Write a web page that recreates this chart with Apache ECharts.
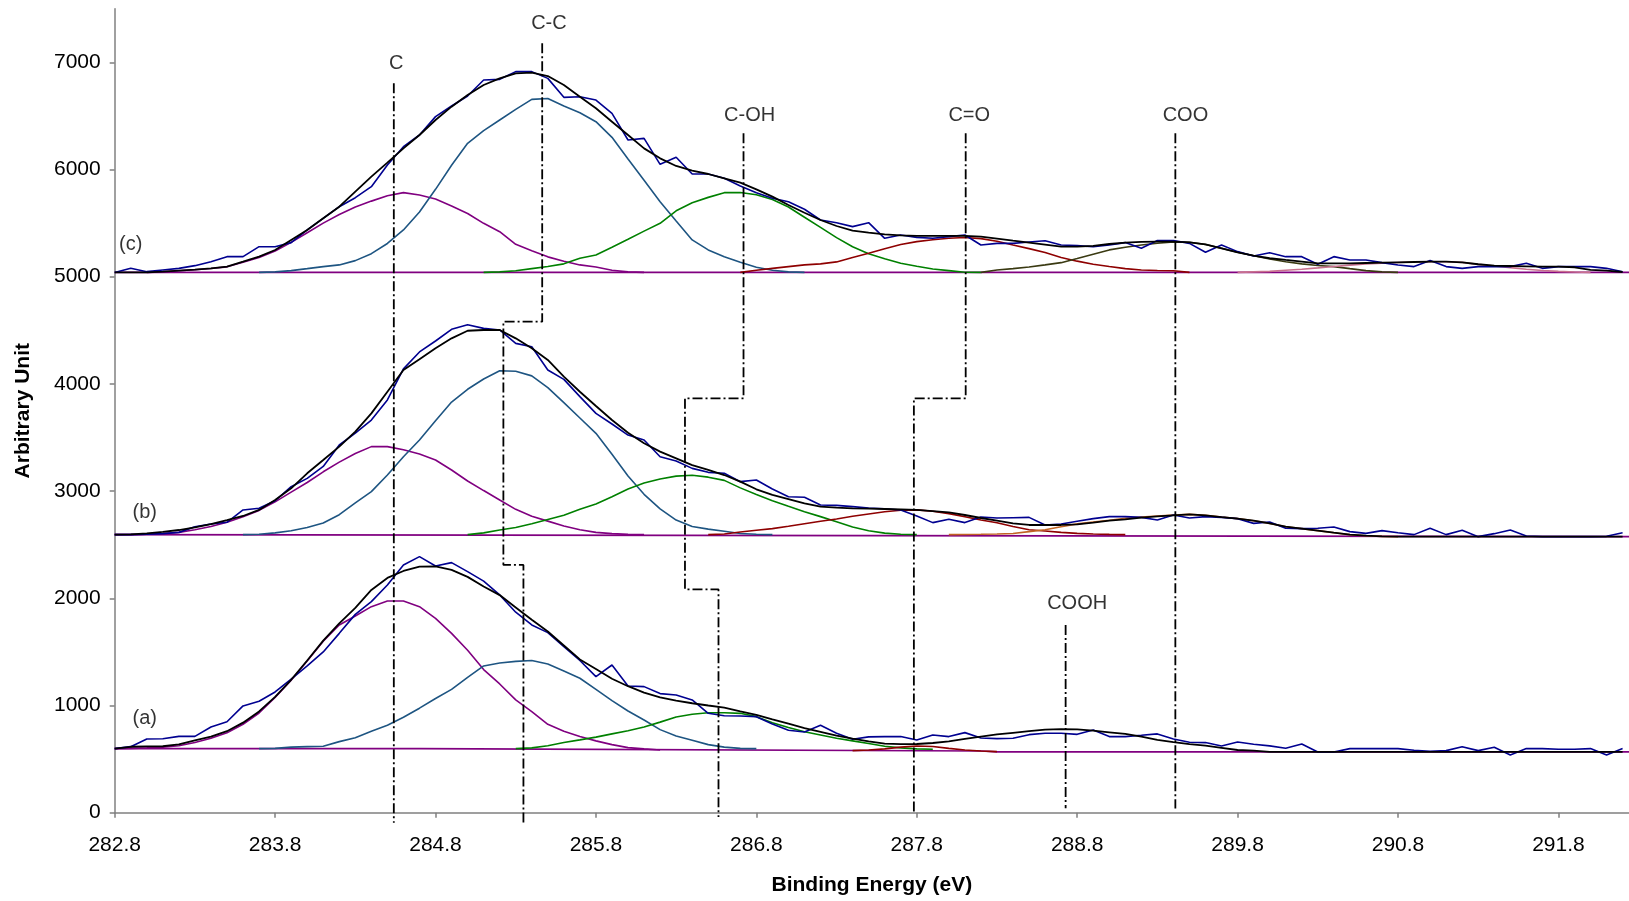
<!DOCTYPE html>
<html>
<head>
<meta charset="utf-8">
<script src="https://cdn.jsdelivr.net/npm/echarts@6/dist/echarts.min.js"></script>
<style>
  html, body { margin: 0; padding: 0; background: #fff; }
  #chart { width: 1629px; height: 901px; }
</style>
</head>
<body>
<div id="chart"></div>
<script>
// sampled curves start at 282.8 eV, one value every 0.1 eV
const E0 = 282.8
const dE = 0.1

const xTicks = [282.8, 283.8, 284.8, 285.8, 286.8, 287.8, 288.8, 289.8, 290.8, 291.8]
const yTicks = [0, 1000, 2000, 3000, 4000, 5000, 6000, 7000]

// ---- spectrum (c)
const rawC = [
  5040, 5078, 5047, 5063, 5078, 5103, 5140, 5187, 5187, 5280,
  5280, 5318, 5436, 5545, 5653, 5737, 5840, 6042, 6213, 6322,
  6493, 6592, 6686, 6835, 6841, 6913, 6913, 6850, 6673, 6679,
  6648, 6524, 6275, 6290, 6048, 6114, 5958, 5958, 5918, 5846,
  5784, 5731, 5700, 5629, 5529, 5504, 5467, 5504, 5358, 5389,
  5367, 5358, 5374, 5389, 5296, 5311, 5311, 5324, 5336, 5296,
  5290, 5280, 5296, 5318, 5265, 5337, 5337, 5311, 5228, 5296,
  5234, 5193, 5224, 5187, 5187, 5116, 5187, 5156, 5156, 5131,
  5109, 5094, 5150, 5094, 5078, 5094, 5094, 5094, 5125, 5078,
  5094, 5094, 5094, 5078, 5047
]
const fitC = [
  5040, 5040, 5040, 5048, 5057, 5066, 5078, 5094, 5140, 5187,
  5249, 5343, 5436, 5545, 5653, 5793, 5933, 6064, 6197, 6322,
  6462, 6586, 6695, 6788, 6850, 6897, 6903, 6872, 6788, 6679,
  6571, 6446, 6322, 6197, 6104, 6033, 5989, 5958, 5918, 5877,
  5815, 5747, 5669, 5597, 5529, 5473, 5430, 5411, 5395, 5386,
  5380, 5380, 5380, 5380, 5374, 5355, 5336, 5318, 5299, 5280,
  5280, 5287, 5305, 5318, 5324, 5327, 5327, 5321, 5302, 5265,
  5228, 5197, 5172, 5156, 5141, 5125, 5125, 5125, 5128, 5131,
  5134, 5137, 5140, 5140, 5134, 5116, 5103, 5100, 5097, 5094,
  5094, 5088, 5063, 5057, 5044
]
const c_C = [5040, 5045, 5055, 5065, 5077, 5092, 5135, 5180, 5240, 5320, 5410, 5500, 5580, 5650, 5705, 5755, 5784, 5762, 5725, 5660, 5590, 5498, 5420, 5302, 5243, 5185, 5145, 5110, 5090, 5060, 5045, 5040]
const c_CC = [5040, 5045, 5057, 5075, 5094, 5110, 5150, 5215, 5310, 5436, 5604, 5815, 6039, 6244, 6362, 6462, 6561, 6654, 6662, 6592, 6530, 6446, 6300, 6098, 5899, 5700, 5520, 5343, 5250, 5187, 5134, 5088, 5060, 5045, 5040]
const c_COH = [5040, 5045, 5055, 5075, 5095, 5120, 5172, 5203, 5275, 5349, 5425, 5498, 5615, 5690, 5740, 5784, 5786, 5765, 5720, 5650, 5555, 5460, 5365, 5280, 5215, 5168, 5125, 5098, 5072, 5057, 5042, 5040]
const c_CO = [5040, 5060, 5078, 5094, 5110, 5120, 5138, 5180, 5218, 5260, 5300, 5327, 5345, 5358, 5365, 5355, 5330, 5295, 5262, 5225, 5180, 5145, 5116, 5095, 5075, 5062, 5058, 5055, 5040]
const c_COO = [5040, 5062, 5075, 5090, 5110, 5131, 5170, 5210, 5250, 5275, 5295, 5312, 5325, 5321, 5300, 5265, 5228, 5195, 5165, 5140, 5120, 5105, 5094, 5075, 5057, 5045, 5040]
const c_X = [5040, 5045, 5050, 5060, 5070, 5082, 5095, 5108, 5120, 5127, 5132, 5137, 5140, 5140, 5134, 5115, 5100, 5085, 5070, 5058, 5050, 5044, 5040]
const startC = [283.0, 283.7, 285.1, 286.7, 288.2, 289.8]
const baseC = [[282.8, 5040], [292.24, 5040]]

// ---- spectrum (b)
const rawB = [
  2594, 2594, 2597, 2603, 2615, 2668, 2693, 2709, 2824, 2840,
  2910, 3041, 3119, 3230, 3430, 3540, 3663, 3850, 4140, 4298,
  4400, 4509, 4552, 4518, 4503, 4378, 4347, 4130, 4042, 3881,
  3725, 3626, 3523, 3477, 3321, 3281, 3212, 3175, 3166, 3088,
  3104, 3020, 2948, 2942, 2870, 2867, 2855, 2842, 2836, 2824,
  2768, 2706, 2737, 2706, 2759, 2749, 2752, 2755, 2684, 2693,
  2718, 2743, 2762, 2762, 2755, 2730, 2777, 2749, 2762, 2755,
  2743, 2699, 2712, 2653, 2650, 2653, 2665, 2622, 2606, 2631,
  2612, 2594, 2653, 2594, 2634, 2575, 2603, 2637, 2581, 2575,
  2575, 2575, 2575, 2578, 2612
]
const fitB = [
  2594, 2597, 2606, 2619, 2637, 2662, 2693, 2730, 2768, 2824,
  2917, 3026, 3166, 3290, 3415, 3554, 3725, 3927, 4130, 4229,
  4332, 4425, 4496, 4503, 4503, 4425, 4332, 4223, 4067, 3927,
  3794, 3663, 3545, 3446, 3368, 3306, 3243, 3197, 3150, 3088,
  3017, 2964, 2926, 2886, 2855, 2846, 2839, 2836, 2833, 2830,
  2824, 2814, 2802, 2777, 2749, 2724, 2699, 2684, 2684, 2684,
  2690, 2706, 2724, 2737, 2752, 2765, 2774, 2783, 2774, 2758,
  2743, 2724, 2699, 2668, 2650, 2631, 2612, 2594, 2584, 2578,
  2575, 2575, 2575, 2575, 2575, 2575, 2575, 2575, 2575, 2575,
  2575, 2575, 2575, 2575, 2575
]
const b_C = [2594, 2594, 2597, 2603, 2615, 2640, 2670, 2710, 2760, 2820, 2900, 2990, 3080, 3180, 3270, 3350, 3415, 3415, 3385, 3346, 3290, 3197, 3094, 3005, 2917, 2830, 2765, 2720, 2675, 2640, 2615, 2603, 2596, 2594]
const b_CC = [2594, 2597, 2610, 2630, 2660, 2703, 2780, 2890, 2995, 3150, 3320, 3477, 3657, 3831, 3950, 4046, 4123, 4118, 4075, 3965, 3825, 3682, 3539, 3343, 3140, 2970, 2835, 2730, 2670, 2645, 2625, 2605, 2597, 2594]
const b_COH = [2594, 2610, 2637, 2660, 2695, 2735, 2775, 2830, 2880, 2948, 3020, 3075, 3113, 3140, 3148, 3130, 3100, 3030, 2968, 2910, 2858, 2808, 2762, 2715, 2665, 2630, 2608, 2598, 2594]
const b_CO = [2594, 2600, 2618, 2635, 2650, 2672, 2695, 2718, 2740, 2765, 2787, 2808, 2822, 2825, 2812, 2790, 2760, 2730, 2705, 2670, 2640, 2628, 2615, 2606, 2600, 2596, 2594]
const b_COO = [2594, 2595, 2597, 2600, 2605, 2622, 2640, 2668, 2694, 2712, 2728, 2746, 2758, 2768, 2777, 2783, 2774, 2758, 2743, 2724, 2699, 2668, 2650, 2631, 2612, 2594, 2584, 2578, 2575]
const startB = [282.8, 283.6, 285.0, 286.5, 288.0]
const baseB = [[282.8, 2594], [292.24, 2575]]

// ---- spectrum (a)
const rawA = [
  598, 616, 688, 690, 712, 712, 800, 848, 996, 1040,
  1126, 1247, 1369, 1500, 1673, 1850, 1969, 2124, 2311, 2389,
  2301, 2333, 2249, 2160, 2031, 1870, 1751, 1680, 1550, 1420,
  1269, 1378, 1182, 1176, 1111, 1098, 1052, 927, 905, 902,
  896, 828, 769, 753, 815, 741, 685, 707, 710, 710,
  679, 725, 710, 747, 697, 691, 694, 728, 741, 741,
  731, 772, 710, 710, 722, 735, 688, 657, 654, 623,
  660, 638, 623, 601, 641, 567, 567, 598, 598, 598,
  598, 582, 573, 579, 616, 579, 610, 539, 598, 598,
  592, 592, 598, 539, 598
]
const fitA = [
  598, 615, 618, 620, 638, 675, 710, 760, 840, 945,
  1080, 1240, 1420, 1605, 1767, 1910, 2078, 2190, 2255, 2295,
  2298, 2265, 2200, 2110, 2030, 1915, 1800, 1690, 1560, 1430,
  1340, 1250, 1180, 1120, 1075, 1045, 1021, 1000, 980, 945,
  912, 870, 830, 790, 755, 720, 690, 665, 645, 640,
  641, 650, 665, 688, 710, 730, 745, 760, 775, 780,
  778, 765, 750, 735, 710, 680, 658, 640, 625, 605,
  585, 579, 567, 567, 567, 567, 567, 567, 567, 567,
  567, 567, 567, 567, 567, 567, 567, 567, 567, 567,
  567, 567, 567, 567, 567
]
const a_C = [598, 600, 605, 612, 625, 655, 695, 745, 825, 930, 1075, 1235, 1415, 1600, 1751, 1835, 1922, 1975, 1975, 1922, 1813, 1673, 1515, 1335, 1201, 1052, 943, 825, 760, 710, 670, 635, 607, 595, 585]
const a_CC = [598, 600, 612, 616, 620, 663, 700, 760, 815, 890, 975, 1065, 1150, 1263, 1369, 1397, 1412, 1420, 1387, 1322, 1254, 1150, 1046, 949, 865, 775, 715, 675, 635, 612, 600, 598]
const a_COH = [598, 605, 625, 655, 679, 705, 735, 765, 800, 845, 893, 918, 933, 932, 927, 896, 840, 794, 755, 725, 695, 670, 645, 620, 605, 595, 592]
const a_CO = [579, 585, 595, 612, 622, 618, 600, 585, 575, 570]
const startA = [282.8, 283.7, 285.3, 287.4]
const baseA = [[282.8, 598], [284.7, 598], [284.7, 580], [288.2, 575], [288.3, 567], [292.24, 567]]

// ---- dash-dot peak guides
const guideC = [[284.54, 6804], [284.54, -93]]
const guideCC = [[285.465, 7177], [285.465, 4580], [285.223, 4580], [285.223, 2311], [285.348, 2311], [285.348, -92]]
const guideCOH = [[286.72, 6337], [286.72, 3865], [286.355, 3865], [286.355, 2084], [286.564, 2084], [286.564, -40]]
const guideCO = [[288.105, 6337], [288.105, 3865], [287.782, 3865], [287.782, 0]]
const guideCOO = [[289.412, 6337], [289.412, 40]]
const guideCOOH = [[288.728, 1751], [288.728, 41]]

const labelText = ['C', 'C-C', 'C-OH', 'C=O', 'COO', 'COOH', '(c)', '(b)', '(a)']
const labelE = [284.555, 285.507, 286.758, 288.127, 289.475, 288.8, 282.9, 282.987, 282.987]
const labelI = [6990, 7363, 6508, 6508, 6508, 1955, 5296, 2805, 880]

const FONT = 'Liberation Sans, Arial, sans-serif'
const COL = {
  raw: '#000090', fit: '#000000', C: '#800080', CC: '#1E5582',
  COH: '#008000', CO: '#8E0000', COO: '#3A3A12', COOb: '#C26424', X: '#C8708E'
}

function pairs(start, vals) {
  return vals.map((v, i) => [+(start + i * dE).toFixed(2), v])
}

function curve(data, color, width, z) {
  return {
    type: 'line', data, symbol: 'none', silent: true, z: z || 2,
    lineStyle: { color, width: width || 1.6 }
  }
}

function guide(data) {
  return {
    type: 'line', data, symbol: 'none', silent: true, clip: false, z: 5,
    lineStyle: { color: '#000', width: 1.8, type: [10, 3, 2, 3] }
  }
}

let series = []
// (c)
series.push(curve(baseC, COL.C, 1.6, 1))
;[c_C, c_CC, c_COH, c_CO, c_COO, c_X].forEach((arr, i) => {
  let col = [COL.C, COL.CC, COL.COH, COL.CO, COL.COO, COL.X][i]
  series.push(curve(pairs(startC[i], arr), col))
})
series.push(curve(pairs(E0, rawC), COL.raw, 1.6, 3))
series.push(curve(pairs(E0, fitC), COL.fit, 1.8, 3))
// (b)
series.push(curve(baseB, COL.C, 1.6, 1))
;[b_C, b_CC, b_COH, b_CO, b_COO].forEach((arr, i) => {
  let col = [COL.C, COL.CC, COL.COH, COL.CO, COL.COOb][i]
  series.push(curve(pairs(startB[i], arr), col))
})
series.push(curve(pairs(E0, rawB), COL.raw, 1.6, 3))
series.push(curve(pairs(E0, fitB), COL.fit, 1.8, 3))
// (a)
series.push(curve(baseA, COL.C, 1.6, 1))
;[a_C, a_CC, a_COH, a_CO].forEach((arr, i) => {
  let col = [COL.C, COL.CC, COL.COH, COL.CO][i]
  series.push(curve(pairs(startA[i], arr), col))
})
series.push(curve(pairs(E0, rawA), COL.raw, 1.6, 3))
series.push(curve(pairs(E0, fitA), COL.fit, 1.8, 3))

;[guideC, guideCC, guideCOH, guideCO, guideCOO, guideCOOH].forEach(g => series.push(guide(g)))

series.push({
  type: 'scatter', symbolSize: 0, silent: true, z: 6,
  data: labelText.map((t, i) => [labelE[i], labelI[i], t]),
  label: {
    show: true, position: 'inside', color: '#000',
    fontFamily: FONT, fontSize: 20,
    formatter: p => p.data[2]
  }
})

const chart = echarts.init(document.getElementById('chart'))
chart.setOption({
  animation: false,
  backgroundColor: '#fff',
  grid: { left: 114.7, right: 0, top: 8.7, bottom: 88.3, containLabel: false, outerBoundsMode: 'none' },
  xAxis: {
    type: 'value', min: 282.8, max: 292.24,
    name: 'Binding Energy (eV)', nameLocation: 'middle', nameGap: 62,
    nameTextStyle: { fontFamily: FONT, fontSize: 21, fontWeight: 'bold', color: '#000' },
    splitLine: { show: false },
    axisLine: { lineStyle: { color: '#808080', width: 1.5 } },
    axisTick: { length: 5, customValues: xTicks, lineStyle: { color: '#808080', width: 1.5 } },
    axisLabel: {
      customValues: xTicks, margin: 22, color: '#000',
      fontFamily: FONT, fontSize: 21,
      formatter: v => Number(v).toFixed(1)
    }
  },
  yAxis: {
    type: 'value', min: 0, max: 7500,
    name: 'Arbitrary Unit', nameLocation: 'middle', nameGap: 81,
    nameTextStyle: { fontFamily: FONT, fontSize: 21, fontWeight: 'bold', color: '#000' },
    splitLine: { show: false },
    axisLine: { show: true, lineStyle: { color: '#808080', width: 1.5 } },
    axisTick: { show: true, length: 5, customValues: yTicks, lineStyle: { color: '#808080', width: 1.5 } },
    axisLabel: {
      customValues: yTicks, margin: 14, color: '#000', fontFamily: FONT, fontSize: 21,
      formatter: v => String(Math.round(v))
    }
  },
  series
})
</script>
</body>
</html>
